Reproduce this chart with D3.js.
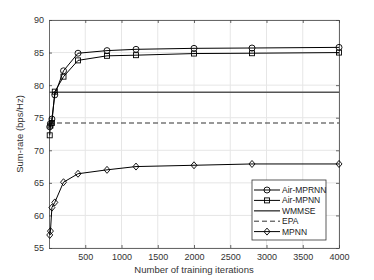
<!DOCTYPE html>
<html>
<head>
<meta charset="utf-8">
<script src="https://cdn.jsdelivr.net/npm/d3@7"></script>
<style>
body { margin: 0; background: #fff; }
text { font-family: "Liberation Sans", Arial, sans-serif; }
</style>
</head>
<body>
<div id="chart"></div>
<script>
// data
var iterations = [10, 20, 40, 80, 200, 400, 800, 1200, 2000, 2800, 4000];
var airMPRNN = [73.6, 74.1, 74.8, 78.5, 82.2, 84.9, 85.3, 85.5, 85.65, 85.7, 85.8];
var airMPNN = [72.3, 73.8, 74.2, 79.0, 81.3, 83.8, 84.5, 84.6, 84.85, 84.9, 85.0];
var mpnn = [57.0, 57.6, 61.2, 62.0, 65.1, 66.4, 67.0, 67.5, 67.7, 67.9, 67.9];
var wmmse = 78.9;
var epa = 74.2;
var xTicks = [500, 1000, 1500, 2000, 2500, 3000, 3500, 4000];
var yTicks = [55, 60, 65, 70, 75, 80, 85, 90];
var legendNames = ['Air-MPRNN', 'Air-MPNN', 'WMMSE', 'EPA', 'MPNN'];

var width = 374, height = 280,
	pLeft = 49, pRight = 339, pTop = 20, pBottom = 248;

var svg = d3.select('#chart').append('svg')
	.attr('width', width)
	.attr('height', height);

var x = d3.scaleLinear().domain([0, 4000]).range([pLeft, pRight]);
var y = d3.scaleLinear().domain([55, 90]).range([pBottom, pTop]);

// grid
svg.append('g').selectAll('line').data(xTicks).enter().append('line')
	.attr('x1', function(d){ return x(d); }).attr('x2', function(d){ return x(d); })
	.attr('y1', pTop).attr('y2', pBottom)
	.style('stroke', '#e6e6e6').style('stroke-width', 1);
svg.append('g').selectAll('line').data(yTicks).enter().append('line')
	.attr('y1', function(d){ return y(d); }).attr('y2', function(d){ return y(d); })
	.attr('x1', pLeft).attr('x2', pRight)
	.style('stroke', '#e6e6e6').style('stroke-width', 1);

// axes
var axisColor = '#444';
var gx = svg.append('g').attr('transform', 'translate(0,' + pBottom + ')')
	.call(d3.axisBottom(x).tickValues(xTicks).tickFormat(d3.format('d')).tickSizeInner(-3).tickSizeOuter(0).tickPadding(6));
var gy = svg.append('g').attr('transform', 'translate(' + pLeft + ',0)')
	.call(d3.axisLeft(y).tickValues(yTicks).tickSizeInner(-3).tickSizeOuter(0).tickPadding(5));
var gt = svg.append('g').attr('transform', 'translate(0,' + pTop + ')')
	.call(d3.axisTop(x).tickValues(xTicks).tickSizeInner(-3).tickSizeOuter(0).tickFormat(''));
var gr = svg.append('g').attr('transform', 'translate(' + pRight + ',0)')
	.call(d3.axisRight(y).tickValues(yTicks).tickSizeInner(-3).tickSizeOuter(0).tickFormat(''));
[gx, gy, gt, gr].forEach(function(g){
	g.selectAll('path, line').style('stroke', axisColor).style('stroke-width', 0.8);
	g.selectAll('text').style('fill', '#333').style('font-size', '9px');
});

svg.append('text')
	.attr('x', (pLeft + pRight) / 2).attr('y', 273)
	.attr('text-anchor', 'middle')
	.style('font-size', '9.5px').style('fill', '#333')
	.text('Number of training iterations');
svg.append('text')
	.attr('transform', 'translate(23,' + ((pTop + pBottom) / 2) + ') rotate(-90)')
	.attr('text-anchor', 'middle')
	.style('font-size', '9.5px').style('fill', '#333')
	.text('Sum-rate (bps/Hz)');

// horizontal references
svg.append('line')
	.attr('x1', pLeft).attr('x2', pRight).attr('y1', y(wmmse)).attr('y2', y(wmmse))
	.style('stroke', '#555').style('stroke-width', 1.6);
svg.append('line')
	.attr('x1', pLeft).attr('x2', pRight).attr('y1', y(epa)).attr('y2', y(epa))
	.style('stroke', '#333').style('stroke-width', 1.1).style('stroke-dasharray', '5,3');

var line = d3.line()
	.x(function(d){ return x(d[0]); })
	.y(function(d){ return y(d[1]); });

var drawMarker = function(g, shape, cx, cy){
	if (shape == 'circle') {
		g.append('circle').attr('cx', cx).attr('cy', cy).attr('r', 3)
			.style('fill', 'none').style('stroke', '#000').style('stroke-width', 0.9);
	} else if (shape == 'square') {
		g.append('rect').attr('x', cx - 2.5).attr('y', cy - 2.5).attr('width', 5).attr('height', 5)
			.style('fill', 'none').style('stroke', '#000').style('stroke-width', 0.9);
	} else if (shape == 'diamond') {
		g.append('path').attr('d', 'M' + cx + ',' + (cy - 3.5) + 'L' + (cx + 3) + ',' + cy + 'L' + cx + ',' + (cy + 3.5) + 'L' + (cx - 3) + ',' + cy + 'Z')
			.style('fill', 'none').style('stroke', '#000').style('stroke-width', 0.9);
	}
};

var series = [[airMPRNN, 'circle'], [airMPNN, 'square'], [mpnn, 'diamond']];
series.forEach(function(s){
	var pts = iterations.map(function(it, i){ return [it, s[0][i]]; });
	svg.append('path').datum(pts).attr('d', line)
		.style('fill', 'none').style('stroke', '#000').style('stroke-width', 1);
	var g = svg.append('g');
	pts.forEach(function(p){ drawMarker(g, s[1], x(p[0]), y(p[1])); });
});

// legend
var lg = svg.append('g');
lg.append('rect').attr('x', 252).attr('y', 180).attr('width', 74).attr('height', 60)
	.style('fill', '#fff').style('stroke', '#333').style('stroke-width', 0.8);
var legendShapes = ['circle', 'square', null, null, 'diamond'];
legendNames.forEach(function(name, i){
	var ly = 190 + i * 10.4;
	var l = lg.append('line').attr('x1', 254).attr('x2', 280).attr('y1', ly).attr('y2', ly)
		.style('stroke', '#000').style('stroke-width', 1);
	if (name == 'WMMSE') l.style('stroke', '#555').style('stroke-width', 1.6);
	if (name == 'EPA') l.style('stroke', '#333').style('stroke-dasharray', '5,3');
	if (legendShapes[i]) drawMarker(lg, legendShapes[i], 267, ly);
	lg.append('text').attr('x', 282).attr('y', ly + 3)
		.style('font-size', '8.5px').style('fill', '#222').text(name);
});
</script>
</body>
</html>
